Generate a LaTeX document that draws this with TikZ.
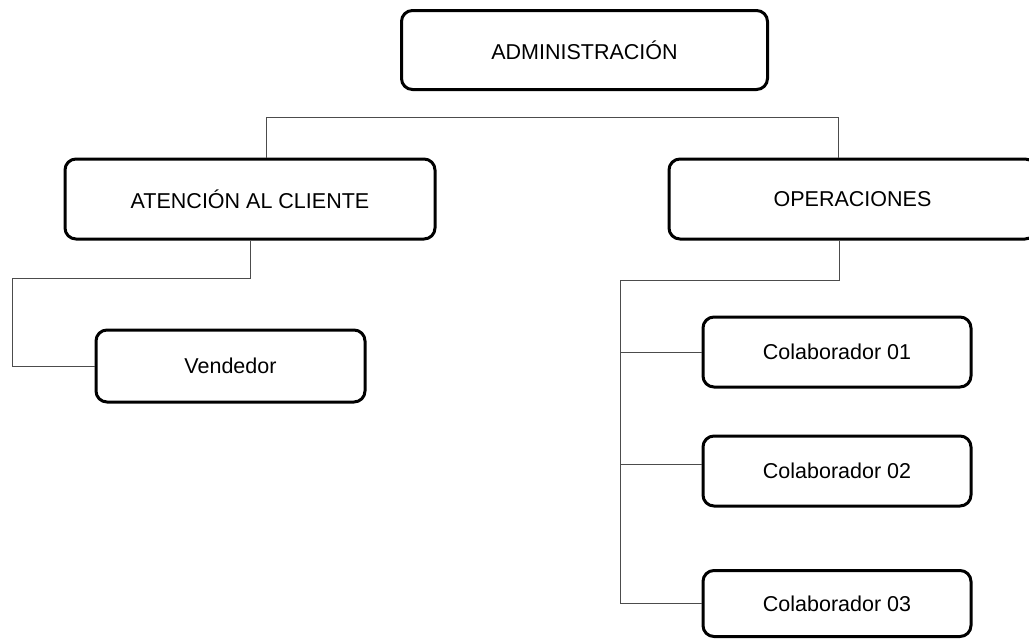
\documentclass[tikz,border=0pt]{standalone}
\usepackage{fontspec}
\setmainfont{Liberation Sans}
\begin{document}
\begin{tikzpicture}[x=1pt,y=-1pt,
  box/.style={draw=black,line width=3pt,rounded corners=11pt,fill=white,inner sep=0pt,
    font=\fontsize{21.5}{25}\selectfont,text=black},
  link/.style={draw=black!70,line width=1pt}]
\useasboundingbox (0,0) rectangle (1029,640);
\begin{scope}
\clip (0,0) rectangle (1029,640);
\node[box,minimum width=366,minimum height=79] (admin) at (584.5,50) {ADMINISTRACIÓN};
\node[box,minimum width=370,minimum height=80] (aten) at (250,199) {ATENCIÓN AL CLIENTE};
\node[box,minimum width=367,minimum height=80] (oper) at (852.5,199) {OPERACIONES};
\node[box,minimum width=269,minimum height=72] (vend) at (230.5,366) {Vendedor};
\node[box,minimum width=268,minimum height=70] (c1) at (837,352) {Colaborador 01};
\node[box,minimum width=268,minimum height=70] (c2) at (837,471) {Colaborador 02};
\node[box,minimum width=268,minimum height=66] (c3) at (837,603.5) {Colaborador 03};
\end{scope}
\coordinate (t1) at (266,117);
\coordinate (t2) at (838,117);
\coordinate (v1) at (12,278);
\coordinate (os) at (839,240);
\coordinate (o1) at (620,280);
\coordinate (b2) at (620,464);
\draw[link] (aten.north -| t1) -- (t1) -- (t2) -- (oper.north -| t2);
\draw[link] (aten.south) |- (v1) |- (vend.west);
\draw[link] (oper.south -| os) |- (o1) -- (o1 |- c3.west) -- (c3.west);
\draw[link] (o1 |- c1.west) -- (c1.west);
\draw[link] (b2) -- (b2 -| c2.west);
\end{tikzpicture}
\end{document}
